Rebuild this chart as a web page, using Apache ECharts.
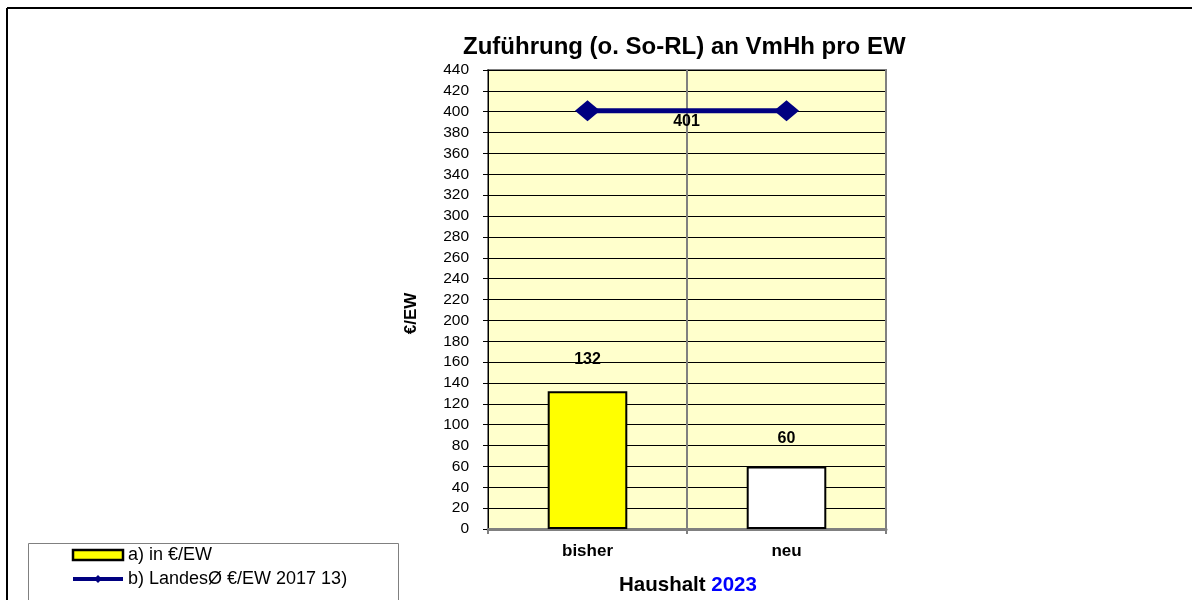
<!DOCTYPE html>
<html>
<head>
<meta charset="utf-8">
<script src="https://cdn.jsdelivr.net/npm/echarts@6/dist/echarts.min.js"></script>
<style>
  html, body { margin: 0; padding: 0; background: #fff; }
  #main { width: 1192px; height: 600px; }
</style>
</head>
<body>
<div id="main"></div>
<script>
// daten
var kategorien = ['bisher', 'neu'];
var werteEW = [132, 60];          // a) in €/EW
var landesDurchschnitt = [401, 401]; // b) LandesØ €/EW 2017
var yTicks = { min: 0, max: 440, step: 20 };

var schrift = 'Arial, "Liberation Sans", sans-serif';

var myChart = echarts.init(document.getElementById('main'));

var option = {
    backgroundColor: '#fff',
    animation: false,
    textStyle: { fontFamily: schrift, color: '#000' },
    title: [
        {
            text: 'Zuführung (o. So-RL) an VmHh pro EW',
            left: 458, top: 30,
            textStyle: { fontSize: 24, fontWeight: 'bold', fontFamily: schrift, color: '#000' }
        },
        {
            text: '{a|Haushalt }{b|2023}',
            left: 614, top: 570,
            textStyle: {
                fontFamily: schrift,
                rich: {
                    a: { fontSize: 20.5, fontWeight: 'bold', color: '#000', fontFamily: schrift },
                    b: { fontSize: 20.5, fontWeight: 'bold', color: '#0000ff', fontFamily: schrift }
                }
            }
        }
    ],
    legend: {
        orient: 'vertical',
        left: 71, top: 546,
        padding: 0,
        itemWidth: 50,
        itemHeight: 10,
        itemGap: 6,
        textStyle: { fontSize: 18, fontFamily: schrift, color: '#000' },
        data: [
            { name: 'a) in €/EW', icon: 'rect', itemStyle: { borderColor: '#000', borderWidth: 2.5 } },
            { name: 'b) LandesØ €/EW 2017 13)', lineStyle: { width: 4 } }
        ]
    },
    grid: {
        left: 488, right: 306, top: 70, bottom: 71,
        show: true,
        backgroundColor: '#FFFFCC',
        borderColor: '#808080',
        borderWidth: 2
    },
    xAxis: {
        type: 'category',
        data: kategorien,
        axisLine: { lineStyle: { color: '#808080', width: 3 } },
        axisTick: { show: true, length: 5, lineStyle: { color: '#808080', width: 2 } },
        splitLine: { show: true, lineStyle: { color: '#808080', width: 2 } },
        axisLabel: { fontSize: 17, fontWeight: 'bold', color: '#000', margin: 14, fontFamily: schrift }
    },
    yAxis: {
        type: 'value',
        min: yTicks.min, max: yTicks.max, interval: yTicks.step,
        name: '€/EW',
        nameLocation: 'middle',
        nameRotate: 90,
        nameGap: 68,
        nameTextStyle: {
            fontSize: 17, fontWeight: 'bold', color: '#000', fontFamily: schrift,
            padding: [0, 28, 0, 0]
        },
        axisLine: { show: true, lineStyle: { color: '#000', width: 1 } },
        axisTick: { show: true, length: 5, lineStyle: { color: '#000' } },
        splitLine: { show: true, lineStyle: { color: '#000', width: 1 } },
        axisLabel: { fontSize: 15.5, color: '#000', margin: 19, fontFamily: schrift }
    },
    series: [
        {
            name: 'a) in €/EW',
            type: 'bar',
            barWidth: '40%',
            data: werteEW.map(function (v, i) {
                return i === 1 ? {
                    value: v,
                    itemStyle: { color: '#ffffff' },
                    label: { distance: 20 }
                } : v;
            }),
            itemStyle: { color: '#ffff00', borderColor: '#000', borderWidth: 2 },
            label: {
                show: true, position: 'top', distance: 24,
                fontSize: 16, fontWeight: 'bold', color: '#000', fontFamily: schrift
            },
            z: 2
        },
        {
            name: 'b) LandesØ €/EW 2017 13)',
            type: 'line',
            symbol: 'diamond',
            symbolSize: [25, 21],
            color: '#000080',
            lineStyle: { color: '#000080', width: 5 },
            itemStyle: { color: '#000080' },
            data: landesDurchschnitt.map(function (v, i) {
                // nur ein Wert beschriftet, mittig zwischen den Punkten
                return i === 0 ? {
                    value: v,
                    label: {
                        show: true, position: 'inside', offset: [99, 11],
                        fontSize: 16, fontWeight: 'bold', color: '#000', fontFamily: schrift
                    }
                } : v;
            }),
            z: 3
        }
    ],
    graphic: [
        { type: 'line', shape: { x1: 7, y1: 8, x2: 1192, y2: 8 }, style: { stroke: '#000', lineWidth: 2 } },
        { type: 'line', shape: { x1: 7, y1: 8, x2: 7, y2: 600 }, style: { stroke: '#000', lineWidth: 2 } },
        // rahmen der legende (unten abgeschnitten wie im original)
        { type: 'rect', shape: { x: 28.5, y: 543.5, width: 370, height: 80 }, style: { fill: 'none', stroke: '#808080', lineWidth: 1 } }
    ]
};

myChart.setOption(option);
</script>
</body>
</html>
